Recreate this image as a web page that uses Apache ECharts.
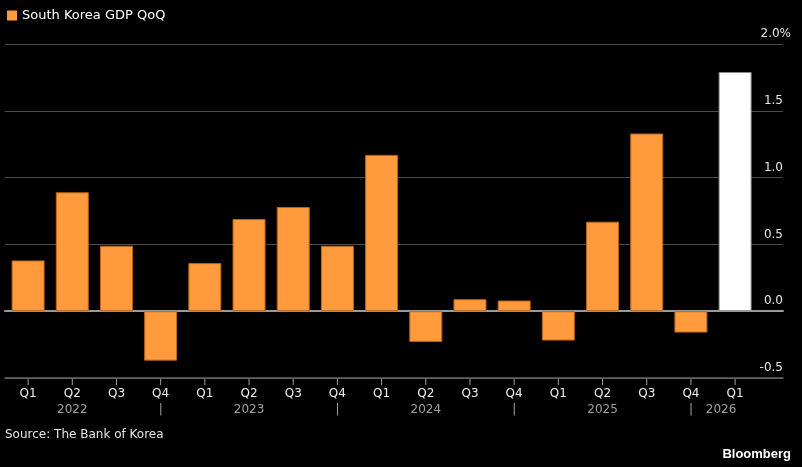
<!DOCTYPE html>
<html>
<head>
<meta charset="utf-8">
<script src="https://cdn.jsdelivr.net/npm/echarts@6/dist/echarts.min.js"></script>
<style>
  html, body { margin: 0; padding: 0; background: #000; }
  #main { width: 802px; height: 467px; }
</style>
</head>
<body>
<div id="main"></div>
<script>
// 数据
var quarters = ['Q1', 'Q2', 'Q3', 'Q4', 'Q1', 'Q2', 'Q3', 'Q4', 'Q1', 'Q2', 'Q3', 'Q4', 'Q1', 'Q2', 'Q3', 'Q4', 'Q1']
var yearRow = ['', '2022', '', '|', '', '2023', '', '|', '', '2024', '', '|', '', '2025', '', '|', '2026']
var gdpQoQ = [0.38, 0.89, 0.49, -0.37, 0.36, 0.69, 0.78, 0.49, 1.17, -0.23, 0.09, 0.08, -0.22, 0.67, 1.33, -0.16, 1.79]
var latestIndex = 16
var yMin = -0.5

var font = 'Tahoma, "DejaVu Sans", sans-serif'
var myChart = echarts.init(document.getElementById('main'))

var barData = gdpQoQ.map(function (v, i) {
  if (i === latestIndex) {
    return { value: v, itemStyle: { color: '#ffffff', borderColor: '#8a8a8a' } }
  }
  return v
})

// x轴刻度：每个季度在底部画一短竖线
var tickData = quarters.map(function (q, i) {
  return [i, yMin]
})

var option = {
  backgroundColor: '#000',
  animation: false,
  textStyle: { fontFamily: font },
  legend: {
    left: 2,
    top: 4,
    icon: 'rect',
    itemWidth: 10,
    itemHeight: 10,
    itemGap: 8,
    itemStyle: { borderWidth: 0 },
    textStyle: { color: '#ffffff', fontSize: 13, fontFamily: font },
    data: ['South Korea GDP QoQ']
  },
  graphic: [{
    type: 'text',
    left: 5,
    top: 429,
    style: { text: 'Source: The Bank of Korea', fill: '#e6e6e6', font: '12px ' + font }
  }, {
    type: 'text',
    right: 11,
    top: 448,
    style: { text: 'Bloomberg', fill: '#ffffff', font: 'bold 13px Arial, "Liberation Sans", sans-serif' }
  }],
  grid: [
    // 网格线和y轴
    { left: 5, right: 19, top: 44, bottom: 89 },
    // 柱子
    { left: 6, right: 44.8, top: 44, bottom: 89 }
  ],
  xAxis: [{
    // 0 线
    type: 'value', gridIndex: 0, min: 0, max: 1, show: true,
    axisLine: { onZero: true, lineStyle: { color: '#9a9a9a', width: 2 } },
    axisTick: { show: false }, axisLabel: { show: false }, splitLine: { show: false }
  }, {
    // 底部轴线
    type: 'value', gridIndex: 0, min: 0, max: 1, position: 'bottom',
    axisLine: { onZero: false, lineStyle: { color: '#6a6a6a', width: 1.5 } },
    axisTick: { show: false }, axisLabel: { show: false }, splitLine: { show: false }
  }, {
    type: 'category', gridIndex: 1, data: quarters, position: 'bottom',
    axisLine: { show: false, onZero: false },
    axisTick: { show: false },
    axisLabel: {
      margin: 8,
      interval: 0,
      formatter: function (q, i) {
        var y = yearRow[i]
        if (i === latestIndex) return '{q|' + q + '}\n{y2|' + y + '}'
        return '{q|' + q + '}\n{y|' + (y || ' ') + '}'
      },
      rich: {
        q: { color: '#eeeeee', fontSize: 12, lineHeight: 16, fontFamily: font },
        y: { color: '#a0a0a0', fontSize: 12, lineHeight: 16, fontFamily: font },
        y2: { color: '#a0a0a0', fontSize: 12, lineHeight: 16, fontFamily: font, padding: [0, 28, 0, 0] }
      }
    }
  }],
  yAxis: [{
    type: 'value', gridIndex: 0, position: 'right',
    min: yMin, max: 2, interval: 0.5,
    axisLine: { show: false }, axisTick: { show: false },
    splitLine: { show: true, lineStyle: { color: '#4a4a4a', width: 1 } },
    axisLabel: {
      inside: true,
      margin: 0,
      verticalAlign: 'bottom',
      padding: [0, 0, 4, 0],
      color: '#e6e6e6',
      fontSize: 12,
      fontFamily: font,
      formatter: function (v) {
        if (v === 2) return '{t|2.0%}'
        return '{n|' + v.toFixed(1) + '}'
      },
      rich: {
        n: { color: '#e6e6e6', fontSize: 12, fontFamily: font },
        t: { color: '#e6e6e6', fontSize: 12, fontFamily: font, padding: [0, -8, 0, 0] }
      }
    }
  }, {
    type: 'value', gridIndex: 1, min: yMin, max: 2, interval: 0.5, show: false,
    splitLine: { show: false }
  }],
  series: [{
    name: 'South Korea GDP QoQ',
    type: 'bar',
    xAxisIndex: 2,
    yAxisIndex: 1,
    barWidth: 33,
    itemStyle: { color: '#ff9a3d', borderColor: '#b8641c', borderWidth: 1 },
    data: barData
  }, {
    name: 'ticks',
    type: 'scatter',
    xAxisIndex: 2,
    yAxisIndex: 1,
    symbol: 'rect',
    symbolSize: [1, 6],
    symbolOffset: [0, 4],
    clip: false,
    silent: true,
    z: 10,
    itemStyle: { color: '#cccccc' },
    data: tickData
  }]
}

myChart.setOption(option)
</script>
</body>
</html>
